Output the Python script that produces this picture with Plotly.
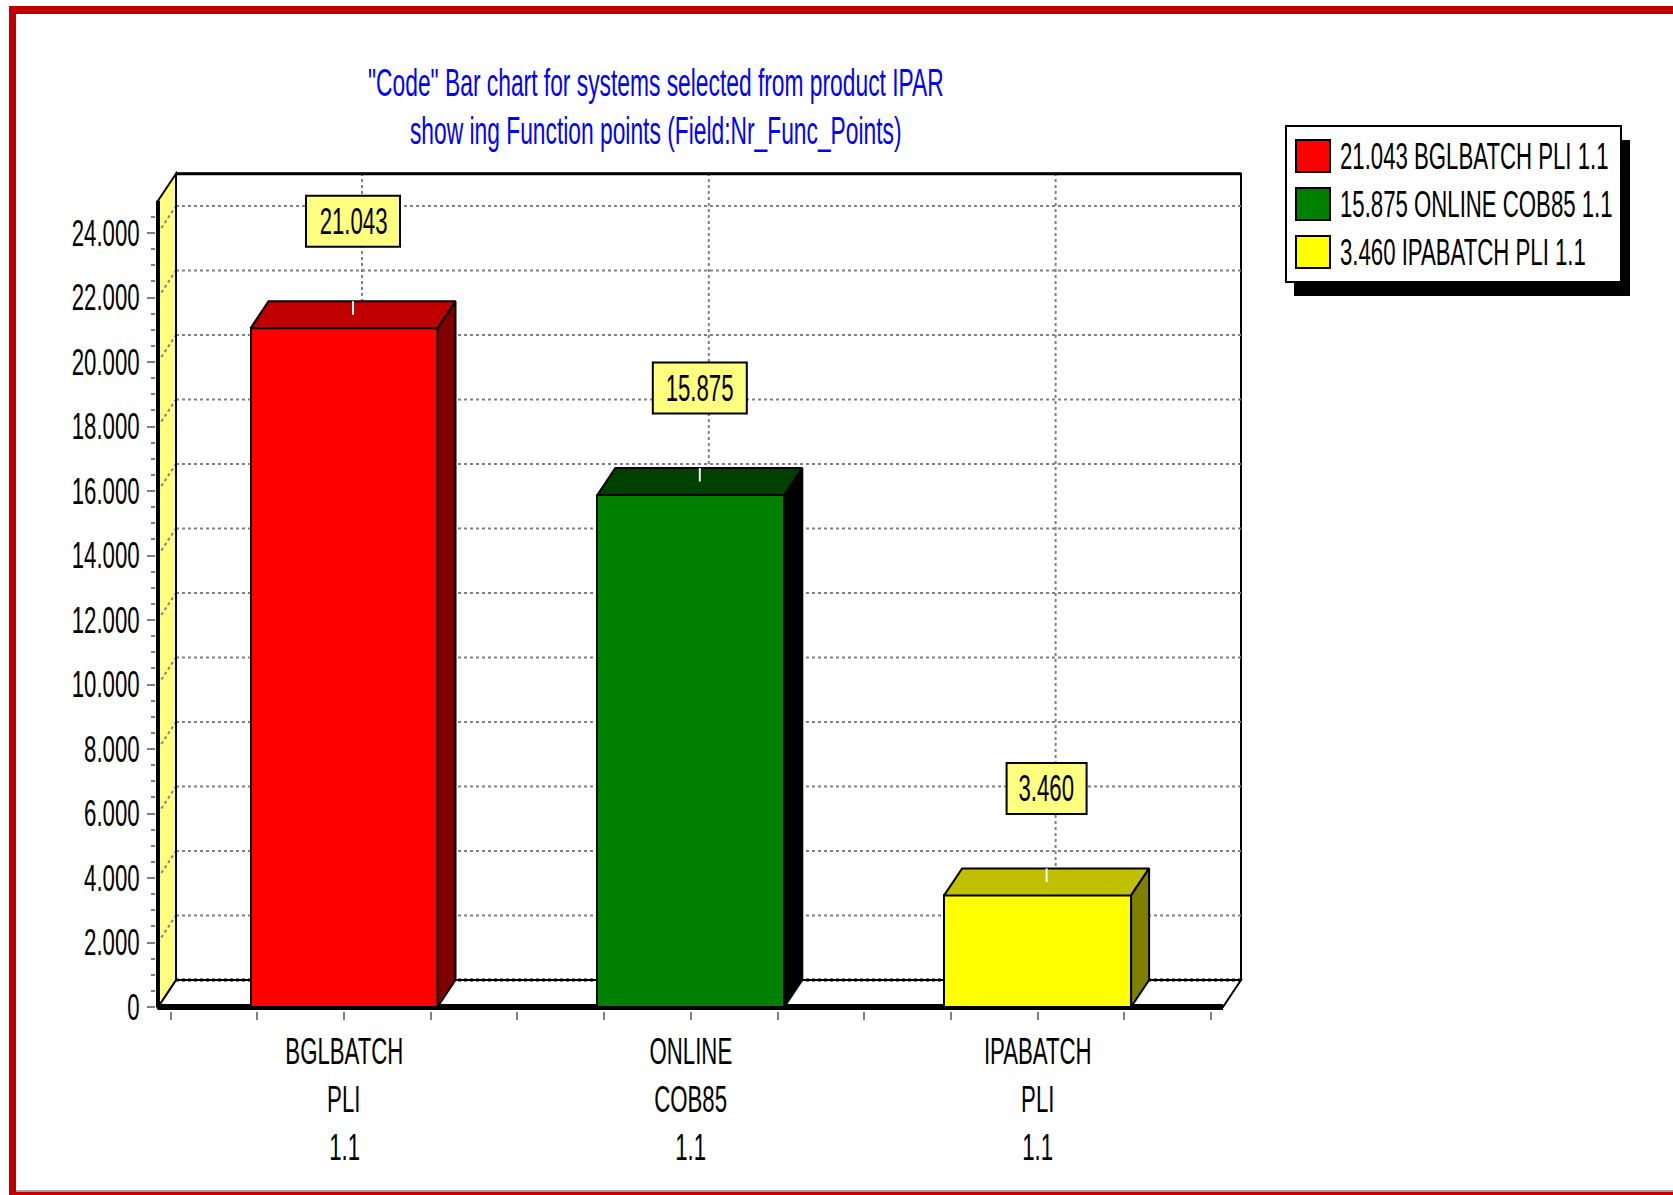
import plotly.graph_objects as go

# ---------------- data ----------------
categories = ["BGLBATCH PLI 1.1", "ONLINE COB85 1.1", "IPABATCH PLI 1.1"]
values = [21043, 15875, 3460]
front_colors = ["#FF0000", "#008000", "#FFFF00"]
top_colors = ["#C00000", "#004000", "#C0C000"]
side_colors = ["#800000", "#000000", "#808000"]
y_major = list(range(0, 24001, 2000))
y_minor = list(range(0, 24501, 500))
x_minor = [-0.5 + 0.25 * k for k in range(13)]
title_lines = ['"Code" Bar chart for systems selected from product IPAR',
               'show ing Function points (Field:Nr_Func_Points)']

FONT = "Liberation Sans, Arial, sans-serif"
FS = 37          # font size (text is rendered horizontally condensed, see post_script)
TEXT_SCALE = 0.6


def fmt(v):
    return f"{v:,}".replace(",", ".")


# ---------------- layout geometry (pixels) ----------------
W, H = 1673, 1195
PXL, PXR, PYT, PYB = 156, 1243, 170, 1011
X_UNIT = 346.8      # px per category
X0PX = 344          # px of category 0
Y_UNIT = 0.03225    # px per value unit
Y0PX = 1007         # px of value 0

xrange = [(PXL - X0PX) / X_UNIT, (PXR - X0PX) / X_UNIT]
yrange = [(Y0PX - PYB) / Y_UNIT, (Y0PX - PYT) / Y_UNIT]

DX = 18 / X_UNIT
DY = 27 / Y_UNIT
XL = (158 - X0PX) / X_UNIT
XR = (1223 - X0PX) / X_UNIT
YTOP = 25000
BW = 187 / X_UNIT
LBL = 80 / Y_UNIT


def paper_x(px):
    return (px - PXL) / (PXR - PXL)


def paper_y(py):
    return (PYB - py) / (PYB - PYT)


shapes = []
GRID = dict(color="#808080", width=2, dash="dot")

# back wall
shapes.append(dict(type="rect", xref="x", yref="y", x0=XL + DX, x1=XR + DX, y0=DY, y1=YTOP + DY,
                   fillcolor="white", line=dict(color="black", width=2), layer="below"))
for v in y_major[1:]:
    shapes.append(dict(type="line", xref="x", yref="y", x0=XL + DX, x1=XR + DX, y0=v + DY, y1=v + DY,
                       line=GRID, layer="below"))
for i in range(len(categories)):
    shapes.append(dict(type="line", xref="x", yref="y", x0=i + DX, x1=i + DX, y0=DY, y1=YTOP + DY,
                       line=GRID, layer="below"))
shapes.append(dict(type="line", xref="x", yref="y", x0=XL + DX, x1=XR + DX, y0=YTOP + DY, y1=YTOP + DY,
                   line=dict(color="black", width=3), layer="below"))
# floor
shapes.append(dict(type="path", xref="x", yref="y",
                   path=f"M {XL},0 L {XL + DX},{DY} L {XR + DX},{DY} L {XR},0 Z",
                   fillcolor="white", line=dict(color="black", width=2), layer="below"))
shapes.append(dict(type="line", xref="x", yref="y", x0=XL + DX, x1=XR + DX, y0=DY, y1=DY,
                   line=dict(color="black", width=3, dash="dot"), layer="below"))
# side wall
shapes.append(dict(type="path", xref="x", yref="y",
                   path=f"M {XL},0 L {XL},{YTOP} L {XL + DX},{YTOP + DY} L {XL + DX},{DY} Z",
                   fillcolor="#FFFF80", line=dict(color="black", width=2), layer="below"))
for v in y_major[1:]:
    shapes.append(dict(type="line", xref="x", yref="y", x0=XL, x1=XL + DX, y0=v, y1=v + DY,
                       line=GRID, layer="below"))
shapes.append(dict(type="line", xref="x", yref="y", x0=XL + DX, x1=XL + DX, y0=DY, y1=YTOP + DY,
                   line=dict(color="black", width=2), layer="below"))
# front axis lines
shapes.append(dict(type="line", xref="x", yref="y", x0=XL, x1=XL, y0=0, y1=YTOP,
                   line=dict(color="black", width=4), layer="below"))
shapes.append(dict(type="line", xref="x", yref="y", x0=XL, x1=XR, y0=0, y1=0,
                   line=dict(color="black", width=6), layer="below"))

fig = go.Figure()

# front faces
fig.add_trace(go.Bar(x=list(range(len(categories))), y=values, width=BW,
                     marker=dict(color=front_colors, line=dict(color="black", width=2)),
                     hoverinfo="skip", showlegend=False))

# top and side faces + label leader
for i, v in enumerate(values):
    l, r = i - BW / 2, i + BW / 2
    fig.add_trace(go.Scatter(x=[l, l + DX, r + DX, r, l], y=[v, v + DY, v + DY, v, v],
                             fill="toself", fillcolor=top_colors[i], mode="lines",
                             line=dict(color="black", width=2), hoverinfo="skip", showlegend=False))
    fig.add_trace(go.Scatter(x=[r, r, r + DX, r + DX, r], y=[0, v, v + DY, DY, 0],
                             fill="toself", fillcolor=side_colors[i], mode="lines",
                             line=dict(color="black", width=2), hoverinfo="skip", showlegend=False))
    fig.add_trace(go.Scatter(x=[i + DX / 2, i + DX / 2], y=[v + DY, v + DY / 2], mode="lines",
                             line=dict(color="white", width=2), hoverinfo="skip", showlegend=False))

annotations = []
# value labels (box drawn as shape, text as annotation)
for i, v in enumerate(values):
    txt = fmt(v)
    half_w = (14 * len(txt) + 10) / 2 / X_UNIT
    half_h = 25.5 / Y_UNIT
    cx, cy = i + DX / 2, v + DY + LBL
    shapes.append(dict(type="rect", xref="x", yref="y", x0=cx - half_w, x1=cx + half_w,
                       y0=cy - half_h, y1=cy + half_h, fillcolor="#FFFF80",
                       line=dict(color="black", width=2), layer="above"))
    annotations.append(dict(x=cx, y=cy, xref="x", yref="y", text=txt, showarrow=False,
                            font=dict(family=FONT, size=FS, color="black"),
                            xanchor="center", yanchor="middle"))
# category labels
for i, cat in enumerate(categories):
    for j, part in enumerate(cat.split(" ")):
        annotations.append(dict(x=i, y=paper_y(1051 + 48 * j), xref="x", yref="paper", text=part,
                                showarrow=False, font=dict(family=FONT, size=FS, color="black"),
                                xanchor="center", yanchor="middle"))
# title
for j, line in enumerate(title_lines):
    annotations.append(dict(x=paper_x(656), y=paper_y(83 + 48 * j), xref="paper", yref="paper",
                            text=line, showarrow=False, font=dict(family=FONT, size=38, color="#0000FF"),
                            xanchor="center", yanchor="middle"))

# legend (manual)
LX0, LY0, LX1, LY1 = 1286, 126, 1621, 282
shapes.append(dict(type="rect", xref="paper", yref="paper",
                   x0=paper_x(LX0 + 8), x1=paper_x(LX1 + 9), y0=paper_y(LY0 + 14), y1=paper_y(LY1 + 14),
                   fillcolor="black", line=dict(width=0)))
shapes.append(dict(type="rect", xref="paper", yref="paper",
                   x0=paper_x(LX0), x1=paper_x(LX1), y0=paper_y(LY0), y1=paper_y(LY1),
                   fillcolor="white", line=dict(color="black", width=2)))
for k, (cat, v) in enumerate(zip(categories, values)):
    sy = 140 + 48 * k
    shapes.append(dict(type="rect", xref="paper", yref="paper",
                       x0=paper_x(1296), x1=paper_x(1330), y0=paper_y(sy), y1=paper_y(sy + 32),
                       fillcolor=front_colors[k], line=dict(color="black", width=2)))
    annotations.append(dict(x=paper_x(1338), y=paper_y(sy + 16), xref="paper", yref="paper",
                            text=f"{fmt(v)} {cat}", showarrow=False, align="left",
                            font=dict(family=FONT, size=FS, color="black"),
                            xanchor="left", yanchor="middle"))

# outer border
BORDER = "#C00000"
shapes.append(dict(type="rect", xref="paper", yref="paper",
                   x0=paper_x(9), x1=paper_x(W + 5), y0=paper_y(6), y1=paper_y(14),
                   fillcolor=BORDER, line=dict(width=0)))
shapes.append(dict(type="rect", xref="paper", yref="paper",
                   x0=paper_x(9), x1=paper_x(16), y0=paper_y(6), y1=paper_y(H + 5),
                   fillcolor=BORDER, line=dict(width=0)))
shapes.append(dict(type="rect", xref="paper", yref="paper",
                   x0=paper_x(16), x1=paper_x(W + 5), y0=paper_y(1190), y1=paper_y(1192),
                   fillcolor="#A0A0A0", line=dict(width=0)))
shapes.append(dict(type="rect", xref="paper", yref="paper",
                   x0=paper_x(9), x1=paper_x(W + 5), y0=paper_y(1192), y1=paper_y(H + 5),
                   fillcolor=BORDER, line=dict(width=0)))

fig.update_layout(
    width=W, height=H, autosize=False,
    margin=dict(l=PXL, r=W - PXR, t=PYT, b=H - PYB, pad=0),
    paper_bgcolor="white", plot_bgcolor="rgba(0,0,0,0)",
    separators=",.",
    showlegend=False,
    bargap=0,
    shapes=shapes,
    annotations=annotations,
    xaxis=dict(range=xrange, showgrid=False, zeroline=False, showline=False,
               tickmode="array", tickvals=list(range(len(categories))),
               ticktext=["" for _ in categories],
               ticks="outside", ticklen=15, tickwidth=2, tickcolor="#808080",
               minor=dict(tickmode="array", tickvals=x_minor, ticks="outside", ticklen=8,
                          tickwidth=2, tickcolor="#808080"),
               fixedrange=True),
    yaxis=dict(range=yrange, showgrid=False, zeroline=False, showline=False,
               tickmode="array", tickvals=y_major, tickformat=",d",
               ticks="outside", ticklen=8, tickwidth=2, tickcolor="#808080",
               tickfont=dict(family=FONT, size=FS, color="black"),
               minor=dict(tickmode="array", tickvals=y_minor, ticks="outside", ticklen=4,
                          tickwidth=2, tickcolor="#808080"),
               fixedrange=True),
    font=dict(family=FONT, size=FS, color="black"),
)

# condense all text horizontally around its anchor (the original uses a narrow, tall font)
condense_js = """
var S = %s;
document.querySelectorAll('svg text').forEach(function(t){
  if (!t.textContent) return;
  var b = t.getBBox();
  var anc = t.getAttribute('text-anchor') || 'start';
  var ax = anc === 'middle' ? b.x + b.width / 2 : (anc === 'end' ? b.x + b.width : b.x);
  var tr = t.getAttribute('transform') || '';
  t.setAttribute('transform', tr + ' translate(' + ax + ',0) scale(' + S + ',1) translate(' + (-ax) + ',0)');
});
""" % TEXT_SCALE

fig.write_html("out.html", post_script=condense_js)
